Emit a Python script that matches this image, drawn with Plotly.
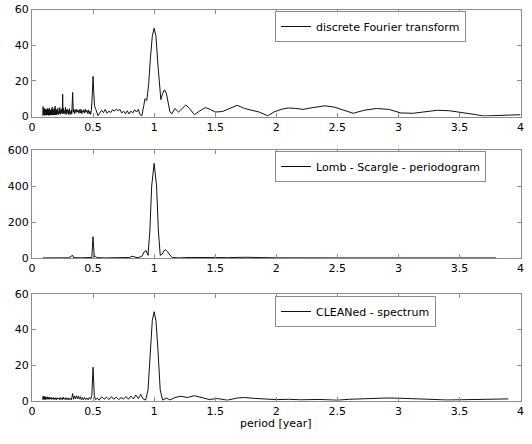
import plotly.graph_objects as go

# ---------------- data ----------------
dft_period = [0.088, 0.090, 0.092, 0.094, 0.096, 0.098, 0.100, 0.102, 0.104, 0.106,
              0.108, 0.110, 0.112, 0.114, 0.116, 0.118, 0.120, 0.122, 0.124, 0.126,
              0.128, 0.130, 0.132, 0.134, 0.136, 0.138, 0.140, 0.142, 0.144, 0.146,
              0.148, 0.150, 0.152, 0.154, 0.156, 0.158, 0.160, 0.162, 0.164, 0.166,
              0.168, 0.170, 0.172, 0.174, 0.176, 0.178, 0.180, 0.182, 0.184, 0.186,
              0.188, 0.190, 0.192, 0.194, 0.196, 0.198, 0.200,
              0.204, 0.208, 0.212, 0.216, 0.220, 0.224, 0.228, 0.232, 0.236, 0.240,
              0.244, 0.248, 0.251, 0.254, 0.258, 0.262, 0.266, 0.270, 0.274, 0.278,
              0.282, 0.286, 0.290, 0.294, 0.298, 0.302, 0.306, 0.310, 0.314, 0.318,
              0.322, 0.326, 0.333, 0.338, 0.342, 0.348, 0.354, 0.360, 0.366, 0.372,
              0.378, 0.384, 0.390, 0.396, 0.402, 0.408, 0.414, 0.420, 0.426, 0.432,
              0.438, 0.444, 0.450, 0.456, 0.462, 0.468, 0.474, 0.480, 0.486, 0.492,
              0.500, 0.506, 0.512, 0.520, 0.530, 0.540, 0.555, 0.570, 0.585, 0.600,
              0.615, 0.630, 0.645, 0.660, 0.675, 0.690, 0.705, 0.720, 0.735, 0.750,
              0.765, 0.780, 0.795, 0.810, 0.825, 0.840, 0.855, 0.870, 0.885, 0.900,
              0.915, 0.925, 0.940, 0.955, 0.970, 0.985, 1.000, 1.015, 1.030, 1.045,
              1.055, 1.070, 1.085, 1.100, 1.115, 1.130, 1.145, 1.170, 1.200, 1.230,
              1.260, 1.290, 1.330, 1.370, 1.420, 1.460, 1.500, 1.560, 1.620, 1.680,
              1.740, 1.800, 1.860, 1.930, 1.980, 2.040, 2.100, 2.160, 2.220, 2.300,
              2.400, 2.480, 2.550, 2.630, 2.720, 2.820, 2.920, 3.020, 3.120, 3.220,
              3.320, 3.420, 3.520, 3.620, 3.700, 3.800, 3.900, 4.000]
dft_value = [0.5, 5.5, 1.0, 4.0, 0.8, 3.5, 1.5, 4.5, 0.6, 3.0,
             1.2, 4.2, 0.8, 2.8, 1.5, 3.8, 0.7, 3.2, 1.0, 4.5,
             0.9, 2.6, 1.4, 3.9, 0.6, 3.0, 1.6, 4.8, 0.8, 2.5,
             1.3, 3.6, 0.7, 2.9, 1.8, 4.1, 0.9, 3.3, 1.1, 5.2,
             1.0, 2.7, 1.5, 3.9, 0.8, 3.1, 1.4, 4.4, 0.9, 2.6,
             1.7, 5.8, 1.0, 3.0, 1.3, 4.0, 0.8,
             3.4, 1.5, 4.6, 1.0, 2.8, 1.8, 5.0, 1.2, 3.5, 2.0,
             4.2, 1.5, 12.5, 2.0, 4.5, 1.4, 3.2, 2.2, 5.1, 1.1,
             3.8, 1.6, 4.0, 2.1, 3.3, 1.0, 4.4, 1.8, 2.7, 1.2,
             3.6, 1.5, 13.5, 2.5, 4.2, 1.5, 3.8, 2.2, 4.0, 2.6,
             3.5, 1.8, 3.9, 2.0, 4.1, 1.6, 3.2, 2.4, 3.8, 1.9,
             4.0, 2.5, 3.4, 1.7, 3.7, 1.5, 3.0, 1.2, 3.5, 10.0,
             22.5, 13.0, 6.0, 4.5, 2.0, 0.5, 2.0, 3.5, 2.2, 4.0,
             1.8, 3.0, 2.2, 3.8, 3.0, 4.2, 3.2, 4.0, 2.0, 3.0,
             1.5, 3.2, 1.4, 3.0, 2.0, 3.8, 2.5, 4.0, 1.0, 0.5,
             6.0, 10.0, 9.0, 18.0, 33.0, 45.0, 49.5, 45.0, 30.0, 14.0,
             9.5, 13.0, 15.0, 13.0, 8.0, 2.5, 1.5, 4.5, 2.5, 4.5,
             6.5, 4.5, 1.0, 3.0, 5.0, 4.0, 2.5, 2.8, 4.5, 6.3,
             4.5, 3.5, 2.5, 0.4, 2.5, 4.0, 4.8, 4.5, 4.0, 5.0,
             6.0, 5.2, 3.8, 1.8, 3.5, 4.5, 4.0, 2.0, 1.8, 2.8,
             3.5, 3.2, 2.4, 1.2, 0.3, 0.5, 0.9, 1.0]

ls_period = [0.09, 0.15, 0.20, 0.25, 0.30, 0.333, 0.34, 0.40, 0.45, 0.49,
             0.50, 0.51, 0.52, 0.53, 0.60, 0.70, 0.75, 0.80, 0.82, 0.84,
             0.86, 0.88, 0.90, 0.92, 0.935, 0.95, 0.965, 0.98, 1.00, 1.02,
             1.035, 1.05, 1.065, 1.08, 1.095, 1.11, 1.13, 1.15, 1.20, 1.30,
             1.40, 1.50, 1.60, 1.75, 1.90, 2.00, 2.50, 3.00, 3.20, 3.35,
             3.50, 3.60, 3.80]
ls_value = [0.5, 0.8, 1.5, 3.0, 1.0, 15.0, 2.0, 1.0, 0.5, 3.0,
            118.0, 5.0, 10.0, 2.0, 0.5, 2.0, 1.0, 3.0, 10.0, 6.0,
            2.0, 4.0, 10.0, 35.0, 40.0, 15.0, 150.0, 400.0, 526.0, 400.0,
            150.0, 15.0, 20.0, 40.0, 45.0, 35.0, 15.0, 3.0, 0.5, 3.0,
            2.0, 1.0, 2.0, 4.0, 2.0, 1.0, 0.5, 1.0, 3.0, 4.0,
            3.0, 1.0, 0.5]

clean_period = [0.088, 0.090, 0.092, 0.094, 0.096, 0.098, 0.100, 0.102, 0.104, 0.106,
                0.108, 0.110, 0.113, 0.116, 0.119, 0.122, 0.125, 0.128, 0.131, 0.134,
                0.137, 0.140, 0.144, 0.148, 0.152, 0.156, 0.160, 0.165, 0.170, 0.175,
                0.180, 0.185, 0.190, 0.195, 0.200, 0.206, 0.212, 0.218, 0.224, 0.230,
                0.236, 0.242, 0.248, 0.254, 0.260, 0.266, 0.272, 0.278, 0.284, 0.290,
                0.296, 0.302, 0.308, 0.314, 0.320, 0.326, 0.333, 0.340, 0.348, 0.356,
                0.364, 0.372, 0.380, 0.388, 0.396, 0.404, 0.412, 0.420, 0.430, 0.440,
                0.450, 0.460, 0.470, 0.480, 0.490, 0.500, 0.510, 0.520, 0.535, 0.550,
                0.570, 0.590, 0.610, 0.630, 0.650, 0.670, 0.690, 0.710, 0.730, 0.750,
                0.770, 0.790, 0.810, 0.830, 0.850, 0.870, 0.890, 0.910, 0.930, 0.950,
                0.970, 0.985, 1.000, 1.015, 1.030, 1.050, 1.070, 1.100, 1.130, 1.170,
                1.220, 1.270, 1.330, 1.380, 1.450, 1.520, 1.600, 1.680, 1.740, 1.820,
                1.900, 2.000, 2.100, 2.200, 2.350, 2.500, 2.600, 2.750, 2.900, 3.000,
                3.100, 3.250, 3.400, 3.550, 3.700, 3.800, 3.900]
clean_value = [0.5, 2.5, 0.8, 2.2, 1.0, 2.4, 0.6, 2.0, 1.2, 2.3,
               0.7, 1.9, 1.0, 2.1, 0.8, 1.8, 1.1, 2.2, 0.7, 1.7,
               1.0, 2.0, 0.8, 1.6, 1.1, 1.9, 0.7, 1.5, 0.9, 1.8,
               0.6, 1.4, 0.8, 1.7, 0.5, 1.6, 0.9, 1.5, 0.6, 1.8,
               0.8, 1.4, 0.5, 2.0, 0.9, 1.5, 0.6, 1.7, 0.7, 1.3,
               0.5, 1.6, 0.8, 1.2, 0.4, 1.5, 4.0, 0.8, 2.6, 1.0,
               2.8, 1.2, 2.5, 0.9, 2.2, 0.6, 1.8, 0.5, 1.9, 0.6,
               1.5, 0.5, 1.8, 0.8, 3.0, 18.8, 3.0, 0.5, 1.5, 0.3,
               2.2, 0.8, 2.0, 0.6, 2.3, 0.8, 2.0, 0.6, 1.8, 0.9,
               2.4, 0.8, 2.6, 1.0, 3.2, 1.2, 3.5, 1.0, 0.3, 6.0,
               30.0, 45.0, 50.0, 45.0, 30.0, 6.0, 0.3, 1.5, 0.4, 1.8,
               2.5, 1.8, 2.8, 2.0, 0.7, 1.2, 0.3, 1.5, 1.8, 1.3,
               1.0, 0.6, 0.8, 0.5, 0.7, 0.3, 0.8, 1.3, 1.5, 1.4,
               1.0, 0.8, 0.4, 0.5, 0.6, 0.9, 1.0]

series_names = ["discrete Fourier transform", "Lomb - Scargle - periodogram", "CLEANed - spectrum"]
y_ranges = [[0, 60], [0, 600], [0, 60]]
y_dticks = [20, 200, 20]
x_label = "period [year]"

# ---------------- figure ----------------
FONT = "DejaVu Sans"
W, H = 532, 444
frame = "#8c8c8c"

def py(px):
    return 1 - px / H

x_dom = [32 / W, 520.5 / W]
y_doms = [[py(116.5), py(9.5)], [py(258), py(150)], [py(400.7), py(294)]]
legend_tops = [py(11), py(151), py(296)]

fig = go.Figure()
data = [(dft_period, dft_value), (ls_period, ls_value), (clean_period, clean_value)]
for i, (xs, ys) in enumerate(data):
    sfx = "" if i == 0 else str(i + 1)
    fig.add_trace(go.Scatter(
        x=xs, y=ys, mode="lines", name=series_names[i],
        line=dict(color="#111111", width=1),
        xaxis="x" + sfx, yaxis="y" + sfx,
        legend="legend" + sfx, showlegend=True,
    ))
    axis_common = dict(showline=True, linecolor=frame, linewidth=1, mirror="ticks",
                       ticks="inside", ticklen=4, tickcolor=frame, showgrid=False,
                       zeroline=False, automargin=False,
                       tickfont=dict(family=FONT, size=11, color="#000"))
    fig.update_layout({
        "xaxis" + sfx: dict(domain=x_dom, range=[0, 4], dtick=0.5, tick0=0,
                            anchor="y" + sfx, **axis_common),
        "yaxis" + sfx: dict(domain=y_doms[i], range=y_ranges[i], dtick=y_dticks[i],
                            anchor="x" + sfx, ticklabelstandoff=0, **axis_common),
        "legend" + sfx: dict(x=275 / W, y=legend_tops[i], xanchor="left", yanchor="top",
                             bordercolor=frame, borderwidth=1, bgcolor="white",
                             font=dict(family=FONT, size=11, color="#000"),
                             tracegroupgap=0, itemwidth=30),
    })

fig.add_annotation(text=x_label, x=276 / W, y=py(423), xref="paper", yref="paper",
                   showarrow=False, xanchor="center", yanchor="middle",
                   font=dict(family=FONT, size=11, color="#000"))

fig.update_layout(width=W, height=H, margin=dict(l=0, r=0, t=0, b=0, autoexpand=False),
                  paper_bgcolor="white", plot_bgcolor="white")

fig.write_html("out.html", config={"displayModeBar": False},
               post_script="document.body.style.margin='0';document.body.style.overflow='hidden';")
